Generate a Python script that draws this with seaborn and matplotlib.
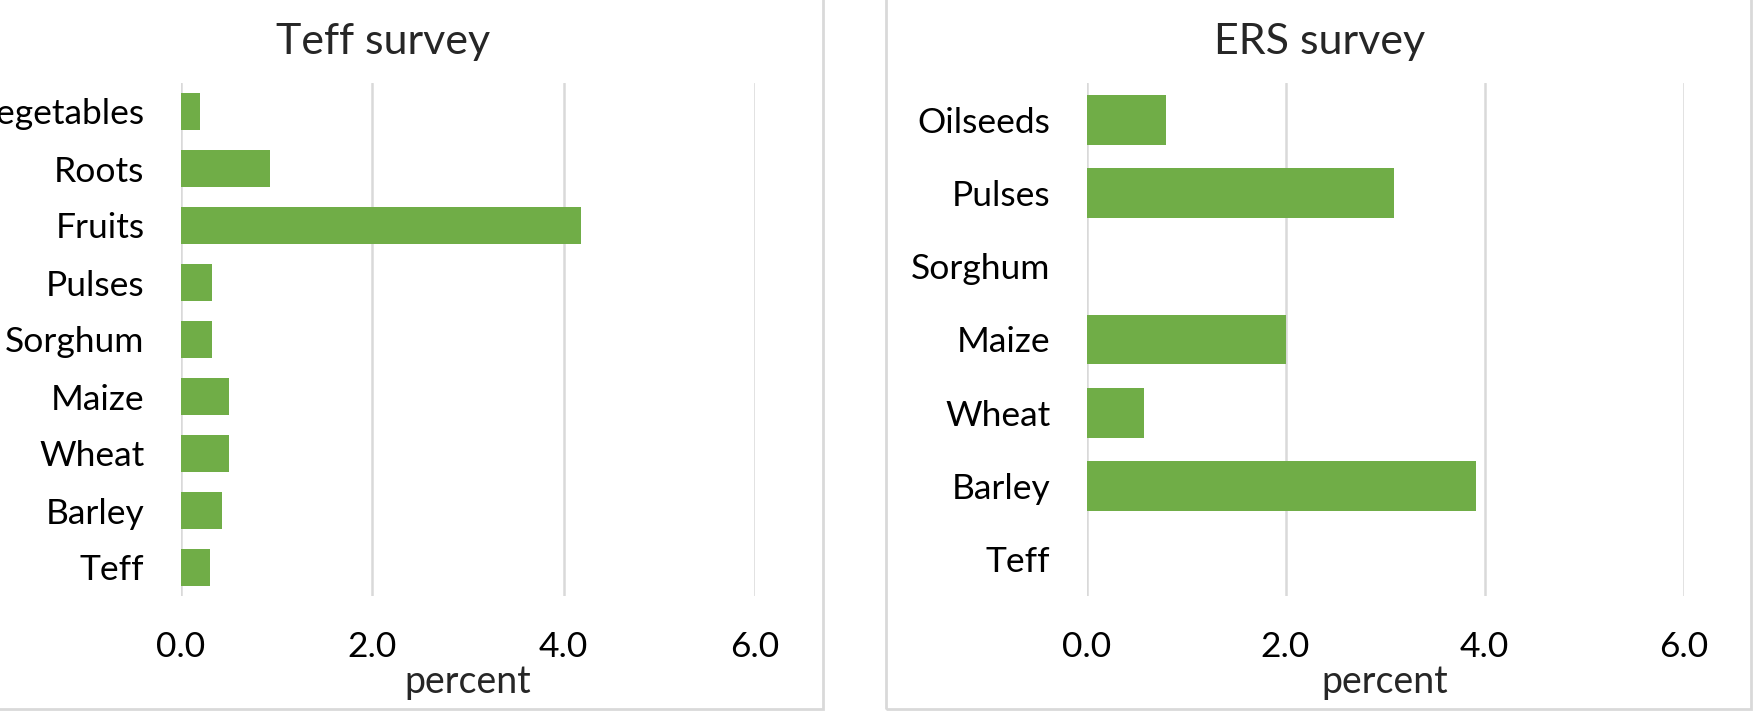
import matplotlib
matplotlib.use("Agg")
import matplotlib.pyplot as plt
import seaborn as sns
import pandas as pd
from matplotlib.patches import Rectangle

# ---- data ----
teff_categories = ["Vegetables", "Roots", "Fruits", "Pulses", "Sorghum", "Maize", "Wheat", "Barley", "Teff"]
teff_values = [0.20, 0.93, 4.18, 0.33, 0.33, 0.50, 0.50, 0.43, 0.31]

ers_categories = ["Oilseeds", "Pulses", "Sorghum", "Maize", "Wheat", "Barley", "Teff"]
ers_values = [0.80, 3.09, 0.0, 2.00, 0.58, 3.91, 0.0]

x_ticks = [0.0, 2.0, 4.0, 6.0]
x_tick_labels = ["0.0", "2.0", "4.0", "6.0"]
titles = ["Teff survey", "ERS survey"]
x_label = "percent"

# ---- style ----
sns.set_style("white")
plt.rcParams["font.family"] = ["Lato", "DejaVu Sans"]

BAR = "#70ad47"
GRID = "#d9d9d9"
W, H = 1761, 719
fig = plt.figure(figsize=(W / 100, H / 100), dpi=100)

def px_axes(x0, x1, y0, y1):
    return fig.add_axes([x0 / W, 1 - y1 / H, (x1 - x0) / W, (y1 - y0) / H])

ax1 = px_axes(180.7, 755, 83, 596)
ax2 = px_axes(1086.5, 1683.5, 83, 596)

df1 = pd.DataFrame({"cat": teff_categories, "val": teff_values})
df2 = pd.DataFrame({"cat": ers_categories, "val": ers_values})

sns.barplot(data=df1, x="val", y="cat", order=teff_categories, color=BAR,
            orient="h", width=0.65, linewidth=0, saturation=1, ax=ax1, errorbar=None)
sns.barplot(data=df2, x="val", y="cat", order=ers_categories, color=BAR,
            orient="h", width=0.68, linewidth=0, saturation=1, ax=ax2, errorbar=None)

for ax, title, cx in [(ax1, titles[0], 383), (ax2, titles[1], 1320)]:
    ax.set_xlim(0, 6)
    ax.set_xticks(x_ticks)
    ax.set_xticklabels(x_tick_labels)
    ax.set_axisbelow(True)
    ax.grid(axis="x", color=GRID, linewidth=1.8)
    ax.grid(axis="y", visible=False)
    for s in ax.spines.values():
        s.set_visible(False)
    ax.tick_params(axis="both", length=0, labelsize=25.5, colors="black")
    ax.tick_params(axis="y", pad=26)
    ax.tick_params(axis="x", pad=25)
    ax.set_ylabel("")
    ax.set_xlabel(x_label, fontsize=27, labelpad=1)
    fig.text(cx / W, 1 - 54 / H, title, fontsize=31, ha="center", va="baseline")

# panel frames
for x0, x1 in [(-60, 823), (886, 1751)]:
    fig.patches.append(Rectangle((x0 / W, 1 - 709 / H), (x1 - x0) / W, 709 / H + 0.02,
                                 transform=fig.transFigure, fill=False,
                                 edgecolor=GRID, linewidth=2.0, clip_on=False))

fig.savefig("out.png", dpi=100)
